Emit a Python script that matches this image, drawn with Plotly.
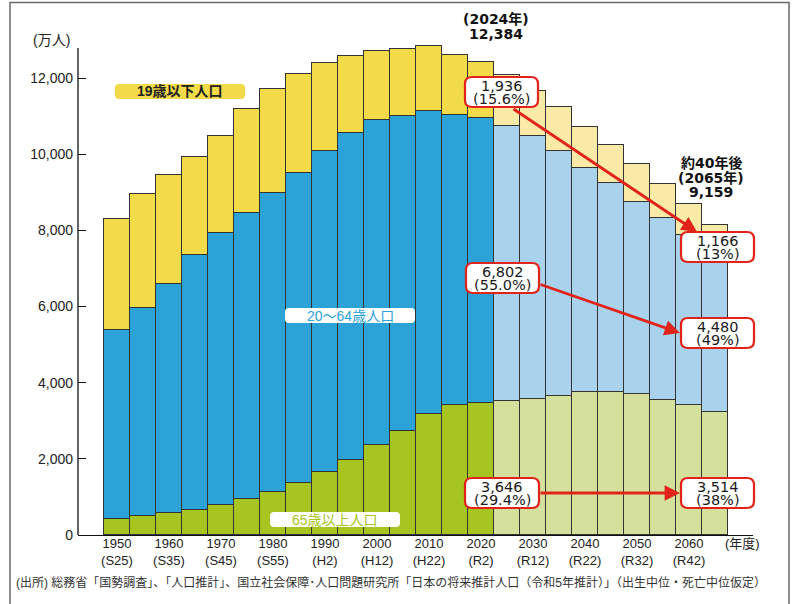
import plotly.graph_objects as go

# ---- data (万人) ----
years = list(range(1950, 2070, 5))
age65_over = [429, 508, 569, 648, 779, 937, 1138, 1357, 1647, 1961, 2355, 2722,
              3177, 3414, 3475, 3519, 3571, 3650, 3764, 3755, 3694, 3537, 3405, 3239]
age20_64 = [4963, 5444, 6014, 6705, 7152, 7527, 7835, 8158, 8437, 8587, 8535, 8273,
            7949, 7624, 7467, 7230, 6899, 6442, 5882, 5481, 5059, 4788, 4465, 4121]
age0_19 = [2908, 3003, 2863, 2565, 2539, 2731, 2739, 2599, 2302, 2023, 1812, 1776,
           1715, 1559, 1471, 1322, 1181, 1139, 1068, 997, 982, 901, 822, 772]
last_actual_year = 2020
tick_years = [1950, 1960, 1970, 1980, 1990, 2000, 2010, 2020, 2030, 2040, 2050, 2060]
tick_era = ["S25", "S35", "S45", "S55", "H2", "H12", "H22", "R2", "R12", "R22", "R32", "R42"]
y_ticks = [0, 2000, 4000, 6000, 8000, 10000, 12000]

# ---- geometry helpers (pixel -> paper) ----
W, H = 795, 604
ML, MR, MT, MB = 78, 42, 21, 69
PW, PH = W - ML - MR, H - MT - MB
def X(px):
    return (px - ML) / PW
def Y(py):
    return (H - MB - py) / PH

FONT = "Liberation Sans, Noto Sans CJK JP, sans-serif"
WIDE = "DejaVu Sans, Noto Sans CJK JP, sans-serif"
RED = "#E2231A"

fig = go.Figure()

def cols(past, future):
    return [past if y <= last_actual_year else future for y in years]

series = [
    ("65歳以上人口", age65_over, "#A6C520", "#D5E09C"),
    ("20～64歳人口", age20_64, "#2BA3D6", "#A9D2EC"),
    ("19歳以下人口", age0_19, "#F3DA48", "#F9EAA7"),
]
for name, vals, cp, cf in series:
    fig.add_trace(go.Bar(
        x=years, y=vals, name=name, width=5,
        marker=dict(color=cols(cp, cf), line=dict(color="#333333", width=1)),
        hoverinfo="x+y",
    ))

shapes = []
annotations = []

def rrect(x0, y0, x1, y1, r, fill, line_color=None, line_width=0):
    p = (f"M {X(x0+r)},{Y(y0)} L {X(x1-r)},{Y(y0)} Q {X(x1)},{Y(y0)} {X(x1)},{Y(y0+r)} "
         f"L {X(x1)},{Y(y1-r)} Q {X(x1)},{Y(y1)} {X(x1-r)},{Y(y1)} "
         f"L {X(x0+r)},{Y(y1)} Q {X(x0)},{Y(y1)} {X(x0)},{Y(y1-r)} "
         f"L {X(x0)},{Y(y0+r)} Q {X(x0)},{Y(y0)} {X(x0+r)},{Y(y0)} Z")
    shapes.append(dict(type="path", path=p, xref="paper", yref="paper", layer="above",
                       fillcolor=fill,
                       line=dict(color=line_color or fill, width=line_width if line_color else 0)))

def text_lines(lines, cx, cy0, spacing, size, color="#222222", bold=False, family=FONT):
    for i, t in enumerate(lines):
        annotations.append(dict(
            text=f"<b>{t}</b>" if bold else t, x=X(cx), y=Y(cy0 + i * spacing),
            xref="paper", yref="paper", showarrow=False, xanchor="center", yanchor="middle",
            font=dict(family=family, size=size, color=color)))

# outer frame
shapes.append(dict(type="rect", xref="paper", yref="paper", x0=X(10), x1=X(789),
                   y0=Y(625), y1=Y(2.5), line=dict(color="#6a6a6a", width=1.5), layer="above"))
# y axis line
shapes.append(dict(type="line", xref="paper", yref="paper", x0=0, x1=0, y0=Y(535), y1=Y(48),
                   line=dict(color="#111111", width=1.3), layer="above"))

# series labels
rrect(115, 84, 245, 99, 4, "#F3DA48")
text_lines(["19歳以下人口"], 180, 91.5, 0, 14, "#222222", True)
rrect(285, 308, 415, 323, 4, "#FFFFFF")
text_lines(["20～64歳人口"], 350, 315.5, 0, 14, "#2BA3D6")
rrect(270, 512, 400, 527, 4, "#FFFFFF")
text_lines(["65歳以上人口"], 335, 519.5, 0, 14, "#A6C520")

# callouts
callouts = [
    (465, 77, 538, 107, ["1,936", "(15.6%)"]),
    (681, 232, 754, 262, ["1,166", "(13%)"]),
    (466, 263, 539, 293, ["6,802", "(55.0%)"]),
    (681, 318, 754, 348, ["4,480", "(49%)"]),
    (465, 478, 539, 508, ["3,646", "(29.4%)"]),
    (681, 478, 754, 508, ["3,514", "(38%)"]),
]
for x0, y0, x1, y1, lines in callouts:
    rrect(x0, y0, x1, y1, 7, "#FFFFFF", RED, 2.2)
    text_lines(lines, (x0 + x1) / 2, y0 + 9, 12.7, 14.5, "#1a1a1a", False, WIDE)

# arrows (tail -> tip in pixels)
arrows = [((512, 108), (697, 232)), ((539, 284), (680, 333)), ((539, 493), (680, 493))]
for (tx, ty), (hx, hy) in arrows:
    annotations.append(dict(x=X(hx), y=Y(hy), xref="paper", yref="paper", text="",
                            showarrow=True, ax=tx - hx, ay=ty - hy, axref="pixel", ayref="pixel",
                            arrowhead=2, arrowsize=1.1, arrowwidth=2.8, arrowcolor=RED, standoff=0))

# top annotations
text_lines(["(2024年)", "12,384"], 496, 19, 14.5, 14, "#111111", True, WIDE)
text_lines(["約40年後", "(2065年)", "9,159"], 711, 163, 14.5, 14, "#111111", True, WIDE)
# axis unit labels
text_lines(["(万人)"], 51, 40, 0, 14, "#222222")
text_lines(["(年度)"], 742, 543, 0, 13, "#222222")
# source
text_lines(["(出所) 総務省「国勢調査」、「人口推計」、国立社会保障･人口問題研究所「日本の将来推計人口（令和5年推計）」（出生中位・死亡中位仮定）"],
           391, 582, 0, 12, "#333333")

fig.update_layout(
    width=W, height=H, barmode="stack", bargap=0, showlegend=False,
    margin=dict(l=ML, r=MR, t=MT, b=MB, pad=0),
    paper_bgcolor="white", plot_bgcolor="white",
    font=dict(family=FONT, size=13, color="#222222"),
    xaxis=dict(range=[1942.5, 2072.3], tickvals=tick_years,
               ticktext=[f"{y}<br>({e})" for y, e in zip(tick_years, tick_era)],
               ticklabelstandoff=-4,
               showgrid=False, zeroline=False, showline=True, linecolor="#111111", linewidth=1.3,
               ticks="", tickfont=dict(size=13, color="#222222")),
    yaxis=dict(range=[0, 13500], tickvals=y_ticks, tickformat=",", showgrid=False, zeroline=False,
               showline=False, ticks="inside", ticklen=8, tickcolor="#111111", tickwidth=1.2,
               tickfont=dict(size=14, color="#222222"), ticklabelstandoff=4),
    shapes=shapes, annotations=annotations,
)

fig.write_html("out.html", config={"displayModeBar": False},
               post_script="document.body.style.margin='0px';")
